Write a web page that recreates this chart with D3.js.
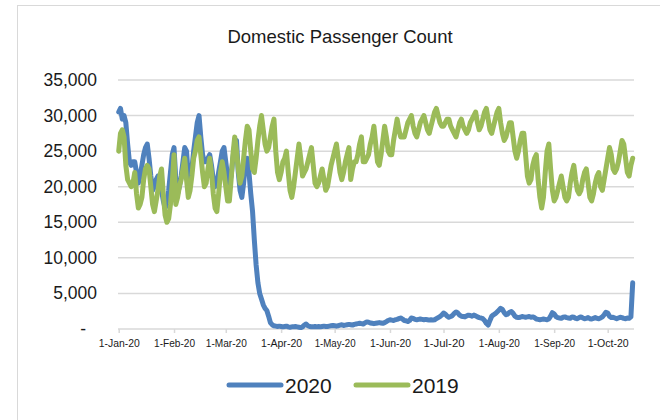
<!DOCTYPE html>
<html>
<head>
<meta charset="utf-8">
<script src="https://cdn.jsdelivr.net/npm/d3@7"></script>
<style>
  body { margin: 0; background: #fff; }
  text { font-family: "Liberation Sans", Arial, sans-serif; }
</style>
</head>
<body>
<svg width="660" height="420"></svg>
<script>
// daily counts, 1-Jan through 15-Oct (2019 plotted on the same calendar days)
var startDate = new Date(2020, 0, 1);

var pax2020 = [
  30500, 31000, 29500, 30000, 29000, 26000, 23500,
  23000, 23500, 23500, 22000, 20500, 21500, 23000,
  24500, 25500, 26000, 24000, 21500, 19500, 20000,
  21000, 21500, 21000, 19500, 18000, 17000, 17500,
  19500, 22000, 24500, 25500, 21000, 19000, 20000,
  21500, 23500, 25500, 25000, 21500, 20500, 22500,
  25000, 27000, 29000, 30000, 27000, 24500, 23500,
  23500, 24000, 24500, 23000, 21000, 20000, 20500,
  22000, 23500, 25000, 25500, 23500, 21500, 20500,
  21500, 24000, 26000, 26500, 22000, 19500, 18500,
  20500, 23500, 24000, 22000, 19000, 16500, 12500,
  9000, 6500, 5000, 4200, 3400, 2900, 2600,
  1800, 900, 600, 450, 400, 350, 400,
  350, 300, 350, 400, 300, 250, 300,
  300, 350, 300, 250, 200, 300, 550,
  700, 450, 350, 300, 300, 350, 300,
  350, 300, 350, 400, 350, 350, 400,
  450, 500, 450, 400, 450, 550, 600,
  500, 550, 600, 650, 600, 550, 650,
  700, 750, 800, 750, 700, 850, 1000,
  950, 850, 800, 750, 800, 850, 900,
  850, 800, 900, 1050, 1200, 1300, 1250,
  1200, 1300, 1350, 1450, 1550, 1400, 1200,
  1150, 1050, 1200, 1550, 1500, 1350, 1300,
  1350, 1400, 1350, 1300, 1350, 1300, 1250,
  1300, 1250, 1300, 1450, 1600, 1750, 1950,
  2250, 2100, 1800, 1650, 1750, 1900, 2200,
  2400, 2250, 1950, 1800, 1750, 1700, 1850,
  1950, 1900, 1800, 1950, 1850, 1700, 1600,
  1550, 1450, 1200, 800, 550, 1200, 1800,
  2000, 2150, 2400, 2650, 2900, 2750, 2300,
  2000, 2100, 2350, 2450, 2200, 1800, 1650,
  1600, 1650, 1750, 1700, 1650, 1700, 1750,
  1650, 1700, 1600, 1400, 1350, 1300, 1350,
  1400, 1350, 1300, 1400, 1800, 2300, 2100,
  1750, 1600, 1550, 1500, 1650, 1700, 1600,
  1550, 1500, 1700, 1650, 1500, 1450, 1600,
  1700, 1550, 1450, 1500, 1600, 1450, 1400,
  1500, 1600, 1500, 1450, 1550, 1700, 2000,
  2350, 2250, 1800, 1600, 1650, 1550, 1450,
  1550, 1650, 1600, 1500, 1450, 1550, 1500,
  1700, 6500
];

var pax2019 = [
  25000, 27500, 28000, 27000, 23000, 21000, 20500,
  20000, 20500, 22000, 19000, 17000, 17500, 18500,
  21000, 22500, 23000, 22500, 20000, 17500, 16500,
  18000, 19500, 21500, 22500, 19000, 16000, 15000,
  15500, 17500, 20500, 24500, 17500, 18500, 20000,
  21000, 22500, 24000, 21000, 18500, 19500, 21500,
  24000, 25000, 26500, 27000, 24500, 22000, 20000,
  20500, 22500, 24000, 22000, 19000, 17000, 16500,
  19000, 22000, 23500, 22000, 20000, 18000, 18000,
  21000, 24500, 27000, 25000, 22500, 20500, 21500,
  24000, 26500, 28500, 28000, 25000, 22500, 22000,
  24000, 26500, 28500, 30000, 28000, 26000, 25000,
  25500, 27000, 28500, 29500, 25000, 22000, 21000,
  22000, 23500, 24000, 25000, 22000, 19500, 18500,
  20000, 22000, 24000, 26000, 24000, 21500, 22000,
  22500, 23500, 24500, 25500, 23000, 20500, 20000,
  20500, 21500, 22500, 21000, 19500, 20000, 21500,
  23000, 24000, 25000, 26000, 24000, 22000, 21000,
  22000, 23500, 24500, 25500, 21000, 22500, 23500,
  23500, 24500, 26000, 27000, 23500, 23500, 24000,
  24500, 26000, 27000, 28500, 26000, 23500, 23000,
  24500, 26500, 28500, 27000, 25000, 24500, 24500,
  26500, 28000, 29500, 28000, 27000, 27000, 27000,
  28000, 29000, 29500, 30000, 28500, 27500, 27000,
  28000, 29000, 29500, 30000, 29000, 28000, 27500,
  28500, 29500, 30500, 31000, 30000, 29000, 28500,
  28500, 29000, 29500, 29500, 28500, 28000, 27500,
  27000, 28000, 29000, 29500, 28500, 28000, 27500,
  28000, 29000, 29500, 30000, 30500, 29000, 28000,
  28500, 29500, 30500, 31000, 29500, 28000, 27500,
  28500, 29500, 30500, 31000, 29000, 27500, 26500,
  27000, 28000, 29000, 29000, 27000, 25000, 24000,
  25000, 26500, 27500, 27500, 24500, 21500, 20500,
  21000, 23000, 24000, 24500, 21000, 18500, 17000,
  18500, 22000, 25000, 26000, 22500, 19500, 18000,
  18500, 19500, 20500, 21500, 20000, 18500, 18000,
  18500, 20500, 22000, 23000, 21000, 19500, 19000,
  19500, 21000, 22000, 22500, 20500, 18500, 18000,
  19000, 20500, 21500, 22000, 20000, 19500, 21000,
  22500, 24000, 25500, 24500, 22500, 22000, 22500,
  23500, 25000, 26500, 26000, 24000, 22000, 21500,
  23000, 24000
];

var seriesNames = ["2020", "2019"];
var seriesColors = ["#4f81bd", "#9bbb59"];
var yTicks = [0, 5000, 10000, 15000, 20000, 25000, 30000, 35000];
var monthTicks = ["1-Jan-20", "1-Feb-20", "1-Mar-20", "1-Apr-20", "1-May-20",
                  "1-Jun-20", "1-Jul-20", "1-Aug-20", "1-Sep-20", "1-Oct-20"];

var svg = d3.select("svg");

// chart frame
svg.append("rect")
    .attr("x", 17.5).attr("y", 5.5)
    .attr("width", 700).attr("height", 500)
    .attr("fill", "none")
    .attr("stroke", "#d9d9d9")
    .attr("stroke-width", 1);

var endDate = d3.timeDay.offset(startDate, pax2020.length - 1);

var x = d3.scaleTime()
    .domain([startDate, endDate])
    .range([118.7, 632.7]);

var y = d3.scaleLinear()
    .domain([0, 35000])
    .range([329, 80]);

// gridlines
svg.append("g")
    .selectAll("line")
    .data(yTicks.filter(function(d) { return d > 0; }))
    .enter().append("line")
    .attr("x1", 118).attr("x2", 634)
    .attr("y1", function(d) { return y(d); })
    .attr("y2", function(d) { return y(d); })
    .attr("stroke", "#d9d9d9")
    .attr("stroke-width", 1.5);

// y labels
var fmt = d3.format(",");
svg.append("g")
    .selectAll("text")
    .data(yTicks)
    .enter().append("text")
    .attr("x", function(d) { return d === 0 ? 86 : 97; })
    .attr("y", function(d) { return y(d) + 6; })
    .attr("text-anchor", "end")
    .attr("font-size", "17.5px")
    .attr("fill", "#1a1a1a")
    .text(function(d) { return d === 0 ? "-" : fmt(d); });

// x axis (month ticks)
var months = d3.timeMonth.range(startDate, endDate);
var xAxis = d3.axisBottom(x)
    .tickValues(months)
    .tickSize(4)
    .tickFormat(function(d, i) { return monthTicks[i]; });

var gx = svg.append("g")
    .attr("transform", "translate(0,329)")
    .call(xAxis);
gx.select(".domain").attr("stroke", "#d9d9d9").attr("stroke-width", 1.5)
    .attr("d", "M118,0H634");
gx.selectAll(".tick line").attr("stroke", "#d9d9d9").attr("stroke-width", 1.5);
gx.selectAll(".tick text")
    .attr("font-size", "11px")
    .attr("font-family", "Liberation Sans, Arial, sans-serif")
    .attr("fill", "#1a1a1a")
    .attr("dy", "0")
    .attr("y", 18)
    .attr("textLength", 41)
    .attr("lengthAdjust", "spacingAndGlyphs");

// lines
var line = d3.line()
    .x(function(d, i) { return x(d3.timeDay.offset(startDate, i)); })
    .y(function(d) { return y(d); });

[pax2020, pax2019].forEach(function(s, k) {
    svg.append("path")
        .datum(s)
        .attr("d", line)
        .attr("fill", "none")
        .attr("stroke", seriesColors[k])
        .attr("stroke-width", 5)
        .attr("stroke-linejoin", "round")
        .attr("stroke-linecap", "round");
});

// title
svg.append("text")
    .attr("x", 340).attr("y", 43)
    .attr("text-anchor", "middle")
    .attr("font-size", "18.5px")
    .attr("fill", "#1a1a1a")
    .text("Domestic Passenger Count");

// legend
var legendX = [229, 356];
var lg = svg.append("g")
    .selectAll("g")
    .data(seriesNames)
    .enter().append("g")
    .attr("transform", function(d, i) { return "translate(" + legendX[i] + ",385)"; });

lg.append("line")
    .attr("x1", 0).attr("x2", 52)
    .attr("y1", 0).attr("y2", 0)
    .attr("stroke", function(d, i) { return seriesColors[i]; })
    .attr("stroke-width", 5)
    .attr("stroke-linecap", "round");

lg.append("text")
    .attr("x", 56).attr("y", 7.5)
    .attr("font-size", "21px")
    .attr("fill", "#1a1a1a")
    .text(function(d) { return d; });
</script>
</body>
</html>
